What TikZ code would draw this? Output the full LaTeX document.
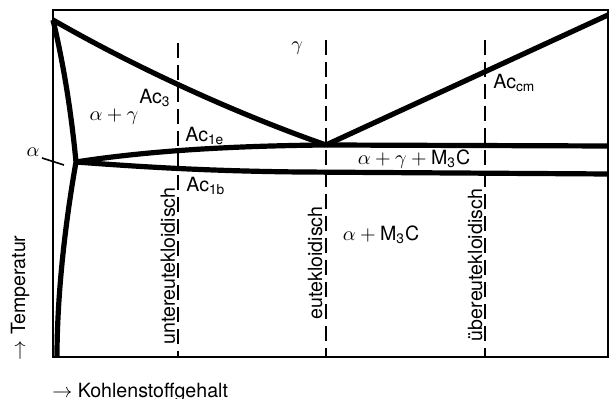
\documentclass[tikz,border=0pt]{standalone}
\usepackage{fontspec}
\setmainfont{TeX Gyre Heros}
\usetikzlibrary{positioning}
\newcommand{\subs}[1]{\textsubscript{#1}}

\begin{document}
\begin{tikzpicture}[
    x=0.5pt, y=-0.5pt,
    font=\fontsize{9.8}{11}\selectfont,
    frame/.style={line width=1pt},
    phase/.style={line width=2.6pt, line join=round},
    concline/.style={line width=1.2pt, dash pattern=on 7.5pt off 3.5pt},
    lbl/.style={inner sep=1pt},
    vlbl/.style={inner sep=1pt, rotate=90},
]
\useasboundingbox (0,0) rectangle (616,399);

% Key points
\coordinate (tl) at (53,20);
\coordinate (P)  at (76,162);
\coordinate (E)  at (326,145);
\coordinate (tr) at (608,15);
\coordinate (re) at (608,146);
\coordinate (rb) at (608,174);
\coordinate (bl) at (57,357);

% Frame
\draw[frame] (53,10) rectangle (608,357);

% Concentration lines
\draw[concline] (178,43) -- (178,357);
\draw[concline] (326,40) -- (326,357);
\draw[concline] (485,40) -- (485,357);

% Phase boundaries
\draw[phase] (tl) .. controls (140,70) and (240,115) .. (E);
\draw[phase] (E) -- (tr);
\draw[phase] (P) .. controls (140,152) and (220,146) .. (E) -- (re);
\draw[phase] (P) .. controls (130,166) and (200,171) .. (300,172) -- (rb);
\draw[phase] (tl) .. controls (65,70) and (72,120) .. (P);
\draw[phase] (P) .. controls (64,230) and (57,300) .. (bl);

% Region labels
\node[lbl] (gam)  at (297,48)  {$\gamma$};
\node[lbl] (ag)   at (114,117) {$\alpha+\gamma$};
\node[lbl] (agm)  at (414,159) {$\alpha+\gamma+{}$M\subs{3}C};
\node[lbl] (am)   at (381,235) {$\alpha+{}$M\subs{3}C};
\node[lbl] (alph) at (33,152)  {$\alpha$};
\coordinate (tk) at (64,165);
\draw[line width=0.8pt] (42,158) -- (tk);

% Transformation lines
\node[lbl, anchor=east] (ac3)  at (173,98)  {Ac\subs{3}};
\node[lbl, anchor=west] (ac1e) at (183,136) {Ac\subs{1e}};
\node[lbl, anchor=west] (ac1b) at (184,186) {Ac\subs{1b}};
\node[lbl, anchor=west] (accm) at (491,83)  {Ac\subs{cm}};

% Steel labels
\node[vlbl] (unter) at (168,266) {untereutekloidisch};
\node[vlbl] (eut)   at (315,263) {eutekloidisch};
\node[vlbl] (ueber) at (475,265) {übereutekloidisch};

% Axes
\node[vlbl] (temp) at (20,298) {$\rightarrow$ Temperatur};
\node[lbl, anchor=west] (kohl) at (50,392) {$\rightarrow$ Kohlenstoffgehalt};

\end{tikzpicture}
\end{document}
